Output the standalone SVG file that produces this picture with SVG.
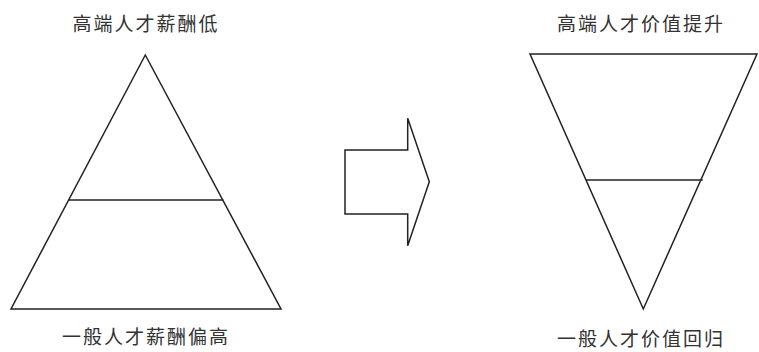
<svg xmlns="http://www.w3.org/2000/svg" width="759" height="352" viewBox="0 0 759 352">
<style>
.s{fill:none;stroke:#222;stroke-width:1.5;stroke-linejoin:miter}
.t{font-family:"Noto Sans CJK SC","Noto Sans",sans-serif;font-size:19px;fill:#333;text-anchor:middle;letter-spacing:2px}
</style>
<rect width="759" height="352" fill="#fff"/>
<g id="pyramid">
<polygon class="s" points="145.3,55 11,309 281,309"/>
<line class="s" x1="68.7" y1="200" x2="223.3" y2="200"/>
<text class="t" x="146" y="31">高端人才薪酬低</text>
<text class="t" x="146" y="344">一般人才薪酬偏高</text>
</g>
<g id="inverted">
<polygon class="s" points="530,54 757,54 643.3,309"/>
<line class="s" x1="586" y1="180" x2="702.7" y2="180"/>
<text class="t" x="641" y="31">高端人才价值提升</text>
<text class="t" x="641" y="346">一般人才价值回归</text>
</g>
<g id="connectors">
<polygon class="s" points="345,150 407.7,150 407.7,118.3 429.3,181.7 407.7,245.7 407.7,214 345,214"/>
</g>
</svg>
